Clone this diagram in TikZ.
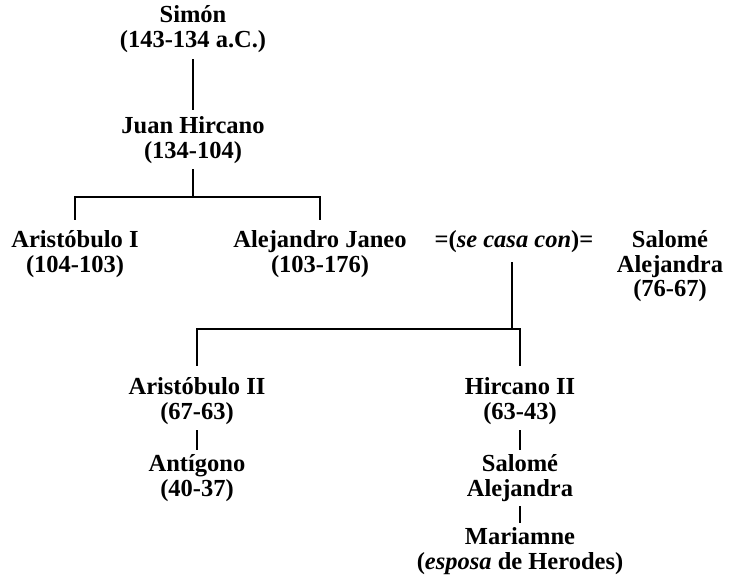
\documentclass[tikz,border=0pt]{standalone}
\usepackage{fontspec}
\setmainfont{Liberation Serif}
\newcommand{\twoline}[2]{\begin{tabular}[t]{@{}c@{}}#1\\#2\end{tabular}}
\newcommand{\threeline}[3]{\begin{tabular}[t]{@{}c@{}}#1\\#2\\#3\end{tabular}}
\tikzset{
  person/.style={anchor=base, inner sep=0pt, font=\bfseries\fontsize{24.5}{25}\selectfont},
  link/.style={line width=1.6pt}
}
\begin{document}
\begin{tikzpicture}[x=1pt,y=1pt]
\useasboundingbox (0,0) rectangle (734,-575);
% people
\node[person] (simon) at (193,-23)  {\twoline{Simón}{(143-134 a.C.)}};
\node[person] (juan)  at (193,-134) {\twoline{Juan Hircano}{(134-104)}};
\node[person] (ari1)  at (75,-247)  {\twoline{Aristóbulo I}{(104-103)}};
\node[person] (alej)  at (320,-247) {\twoline{Alejandro Janeo}{(103-176)}};
\node[person] (marr)  at (514,-247) {=(\textit{se casa con})=};
\node[person] (salo1) at (670,-247) {\threeline{Salomé}{Alejandra}{(76-67)}};
\node[person] (ari2)  at (197,-394) {\twoline{Aristóbulo II}{(67-63)}};
\node[person] (hirc2) at (520,-394) {\twoline{Hircano II}{(63-43)}};
\node[person] (anti)  at (197,-471) {\twoline{Antígono}{(40-37)}};
\node[person] (salo2) at (520,-471) {\twoline{Salomé}{Alejandra}};
\node[person] (mari)  at (520,-544) {\twoline{Mariamne}{(\textit{esposa} de Herodes)}};
% junctions
\coordinate (j1) at (193,-197);
\coordinate (j2) at (512,-329);
% connectors
\draw[link, line width=2.2pt] ([yshift=-3.5pt]simon.south) -- ([yshift=6.5pt]juan.north);
\draw[link] ([yshift=-2.5pt]juan.south) -- (j1);
\draw[link] ([yshift=9.5pt]ari1.north) |- (j1) -| ([yshift=9.5pt]alej.north);
\draw[link] (j2 |- marr.base) ++(0,-15) -- (j2);
\draw[link] ([yshift=10.5pt]ari2.north) |- (j2) -| ([yshift=10.5pt]hirc2.north);
\draw[link] ([yshift=-3.5pt]ari2.south) -- ([yshift=3.5pt]anti.north);
\draw[link] ([yshift=-3.5pt]hirc2.south) -- ([yshift=3.5pt]salo2.north);
\draw[link] ([yshift=-2.5pt]salo2.south) -- ([yshift=3.5pt]mari.north);
\end{tikzpicture}
\end{document}
